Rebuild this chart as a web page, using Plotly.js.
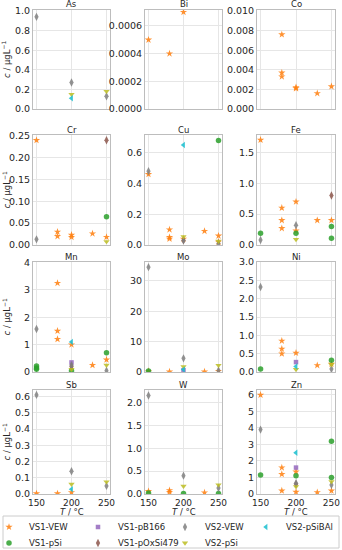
<!DOCTYPE html>
<html><head><meta charset="utf-8">
<script src="https://cdn.plot.ly/plotly-3.0.1.min.js"></script>
<style>body{margin:0;padding:0;background:#fff}#plot{width:342px;height:550px}</style>
</head><body><div id="plot"></div>
<script>
const elements = ['As','Bi','Co','Cr','Cu','Fe','Mn','Mo','Ni','Sb','W','Zn'];
const yMax = [1.01, 0.000715, 0.0101, 0.252, 0.715, 1.78, 4.02, 36.2, 3.0, 0.64, 2.27, 6.3];
const yDtick = [0.2, 0.0002, 0.002, 0.05, 0.2, 0.5, 1, 10, 0.5, 0.1, 0.5, 1];
const yFormat = ['.1f','.4f','.3f','.2f','.1f','.1f','d','d','.1f','.1f','.1f','d'];
const xTicks = [150, 200, 250];

// [element, T (°C), c (µg/L)]
const VS1_VEW = [
 ['Bi',150,0.0005],['Bi',180,0.0004],['Bi',200,0.0007],
 ['Co',180,0.0076],['Co',180,0.0037],['Co',180,0.0033],['Co',200,0.0022],['Co',200,0.0021],['Co',230,0.0016],['Co',250,0.0023],
 ['Cr',150,0.24],['Cr',180,0.030],['Cr',180,0.020],['Cr',200,0.023],['Cr',200,0.018],['Cr',230,0.026],['Cr',250,0.018],
 ['Cu',150,0.46],['Cu',180,0.10],['Cu',180,0.05],['Cu',180,0.04],['Cu',200,0.04],['Cu',230,0.09],['Cu',250,0.06],['Cu',250,0.02],
 ['Fe',150,1.7],['Fe',180,0.6],['Fe',180,0.4],['Fe',180,0.27],['Fe',200,0.7],['Fe',200,0.23],['Fe',230,0.4],['Fe',250,0.4],
 ['Mn',180,3.25],['Mn',180,1.5],['Mn',180,1.2],['Mn',200,1.0],['Mn',230,0.25],['Mn',250,0.45],
 ['Mo',150,0.3],['Mo',180,0.1],['Mo',230,0.1],['Mo',250,0.3],
 ['Ni',180,0.85],['Ni',180,0.63],['Ni',180,0.5],['Ni',200,0.52],['Ni',230,0.18],['Ni',250,0.22],
 ['Sb',150,0.003],['Sb',180,0.003],['Sb',200,0.01],
 ['W',150,0.06],['W',180,0.08],['W',180,0.04],['W',230,0.03],
 ['Zn',150,6.0],['Zn',180,1.6],['Zn',180,1.2],['Zn',180,0.2],['Zn',200,1.35],['Zn',200,0.12],['Zn',230,0.1],['Zn',250,0.2]
];
const VS1_pSi = [
 ['Cr',250,0.065],['Cu',250,0.68],
 ['Fe',150,0.19],['Fe',200,0.19],['Fe',250,0.3],['Fe',250,0.11],
 ['Mn',150,0.22],['Mn',150,0.15],['Mn',150,0.1],['Mn',200,0.05],['Mn',250,0.7],
 ['Mo',150,0.3],['Ni',150,0.08],['Ni',250,0.32],
 ['W',150,0.02],['W',200,0.01],['W',250,0.01],
 ['Zn',150,1.15],['Zn',200,1.1],['Zn',250,3.2],['Zn',250,1.0]
];
const VS1_pB166 = [['Mn',200,0.35],['Mo',200,0.6],['Ni',200,0.27],['Zn',200,1.6]];
const VS1_pOxSi479 = [['Cr',250,0.24],['Cu',200,0.03],['Fe',250,0.8],['Mn',200,0.2],['Zn',200,0.6]];
const VS2_VEW = [
 ['As',150,0.94],['As',200,0.27],['As',250,0.13],['Cr',150,0.013],
 ['Cu',150,0.48],['Cu',200,0.03],['Cu',250,0.01],['Fe',150,0.08],['Fe',200,0.32],
 ['Mn',150,1.57],['Mn',200,0.25],['Mn',250,0.05],['Mo',150,34.5],['Mo',200,4.5],['Mo',250,0.5],
 ['Ni',150,2.32],['Ni',250,0.08],['Sb',150,0.61],['Sb',200,0.14],['Sb',250,0.05],
 ['W',150,2.15],['W',200,0.4],['W',250,0.13],['Zn',150,3.9],['Zn',200,0.65],['Zn',250,0.55]
];
const VS2_pSi = [
 ['As',200,0.15],['As',250,0.18],['Cr',250,0.008],['Cu',200,0.055],['Cu',250,0.025],['Fe',200,0.09],
 ['Mn',200,0.1],['Mn',250,0.25],['Mo',200,1.8],['Mo',250,2.2],['Ni',200,0.07],['Ni',250,0.2],
 ['Sb',200,0.06],['Sb',250,0.075],['W',200,0.17],['W',250,0.2],['Zn',200,0.45],['Zn',250,0.75]
];
const VS2_pSiBAl = [['As',200,0.11],['Cu',200,0.65],['Mn',200,1.1],['Mo',200,0.8],['Ni',200,0.15],['Sb',200,0.03],['Zn',200,2.5]];

// legend slot: [column, row] of the 4x2 legend grid
const series = [
 {name:'VS1-VEW', data:VS1_VEW, color:'#ff7f0e', symbol:'star', size:5.5, slot:[0,0]},
 {name:'VS1-pSi', data:VS1_pSi, color:'#2ca02c', symbol:'circle', size:5.5, slot:[0,1]},
 {name:'VS1-pB166', data:VS1_pB166, color:'#9467bd', symbol:'square', size:4.5, slot:[1,0]},
 {name:'VS1-pOxSi479', data:VS1_pOxSi479, color:'#8c564b', symbol:'diamond-tall', size:6, slot:[1,1]},
 {name:'VS2-VEW', data:VS2_VEW, color:'#7f7f7f', symbol:'diamond-tall', size:6, slot:[2,0]},
 {name:'VS2-pSi', data:VS2_pSi, color:'#bcbd22', symbol:'triangle-down', size:5.5, slot:[2,1]},
 {name:'VS2-pSiBAl', data:VS2_pSiBAl, color:'#17becf', symbol:'triangle-left', size:5.5, slot:[3,0]}
];

const W = 342, H = 550;
const cols = [[33,110],[145,222],[257,335]];
const rows = [[10,109],[135,245],[262,372],[390,494]];
const font = 'DejaVu Sans, sans-serif';
const legendX = [-11, 78, 165, 246];
const legendY = [512.5, 528.5];

const layout = {
  width:W, height:H, margin:{l:0,r:0,t:0,b:0,autoexpand:false}, paper_bgcolor:'#fff', plot_bgcolor:'#fff',
  font:{family:font, size:9, color:'#262626'},
  showlegend:true,
  shapes:[{type:'rect', xref:'paper', yref:'paper', x0:3/W, x1:339/W, y0:1-548/H, y1:1-516/H,
    line:{color:'#cccccc', width:1}, fillcolor:'#ffffff', layer:'above'}],
  annotations:[]
};

const traces = [];
series.forEach((s, k) => {
  const lg = k === 0 ? 'legend' : 'legend' + (k + 1);
  layout[lg] = {x:legendX[s.slot[0]]/W, y:1 - legendY[s.slot[1]]/H, xanchor:'left', yanchor:'top',
    orientation:'v', bgcolor:'rgba(0,0,0,0)', borderwidth:0, itemwidth:30,
    font:{size:8.5, family:font, color:'#262626'}};
  let shown = false;
  elements.forEach((el, i) => {
    const pts = s.data.filter(d => d[0] === el);
    const ax = i === 0 ? '' : String(i + 1);
    const show = !shown && pts.length > 0;
    if (show) shown = true;
    traces.push({
      type:'scatter', mode:'markers', name:s.name, legendgroup:s.name, legend:lg,
      showlegend:show, xaxis:'x'+ax, yaxis:'y'+ax,
      x: pts.map(d => d[1]), y: pts.map(d => d[2]),
      marker:{color:s.color, symbol:s.symbol, size:s.size, opacity:0.85, line:{width:0}}
    });
  });
});

elements.forEach((el, i) => {
  const r = Math.floor(i / 3), c = i % 3;
  const ax = i === 0 ? '' : String(i + 1);
  const xd = [cols[c][0]/W, cols[c][1]/W];
  const yd = [1 - rows[r][1]/H, 1 - rows[r][0]/H];
  layout['xaxis'+ax] = {
    domain:xd, range:[145,255], tickvals:xTicks, showticklabels:r === 3,
    showgrid:true, gridcolor:'#e6e6e6', gridwidth:1, zeroline:false,
    showline:true, mirror:true, linecolor:'#bdbdbd', linewidth:1, ticks:'',
    anchor:'y'+ax, tickfont:{size:9}, automargin:false, title:{text:''}
  };
  layout['yaxis'+ax] = {
    domain:yd, range:[0, yMax[i]], dtick:yDtick[i], tick0:0, tickformat:yFormat[i],
    showgrid:true, gridcolor:'#e6e6e6', gridwidth:1, zeroline:false,
    showline:true, mirror:true, linecolor:'#bdbdbd', linewidth:1, ticks:'',
    anchor:'x'+ax, tickfont:{size:9.5}, title:{text:''}, automargin:false
  };
  layout.annotations.push({
    text:el, xref:'paper', yref:'paper', x:(xd[0]+xd[1])/2, y:1-(rows[r][0]-5.5)/H,
    xanchor:'center', yanchor:'middle', showarrow:false, borderpad:0,
    font:{size:8.5, family:font, color:'#262626'}
  });
  if (c === 0) {
    layout.annotations.push({
      text:'<i>c</i> / μgL<sup>−1</sup>', xref:'paper', yref:'paper', x:6.5/W, y:(yd[0]+yd[1])/2,
      xanchor:'center', yanchor:'middle', textangle:-90, showarrow:false, borderpad:0,
      font:{size:8.5, family:font, color:'#262626'}
    });
  }
  if (r === 3) {
    layout.annotations.push({
      text:'<i>T</i> / °C', xref:'paper', yref:'paper', x:(xd[0]+xd[1])/2, y:1-511.5/H,
      xanchor:'center', yanchor:'middle', showarrow:false, borderpad:0,
      font:{size:8.5, family:font, color:'#262626'}
    });
  }
});

Plotly.newPlot('plot', traces, layout, {displayModeBar:false, staticPlot:true});
</script></body></html>
